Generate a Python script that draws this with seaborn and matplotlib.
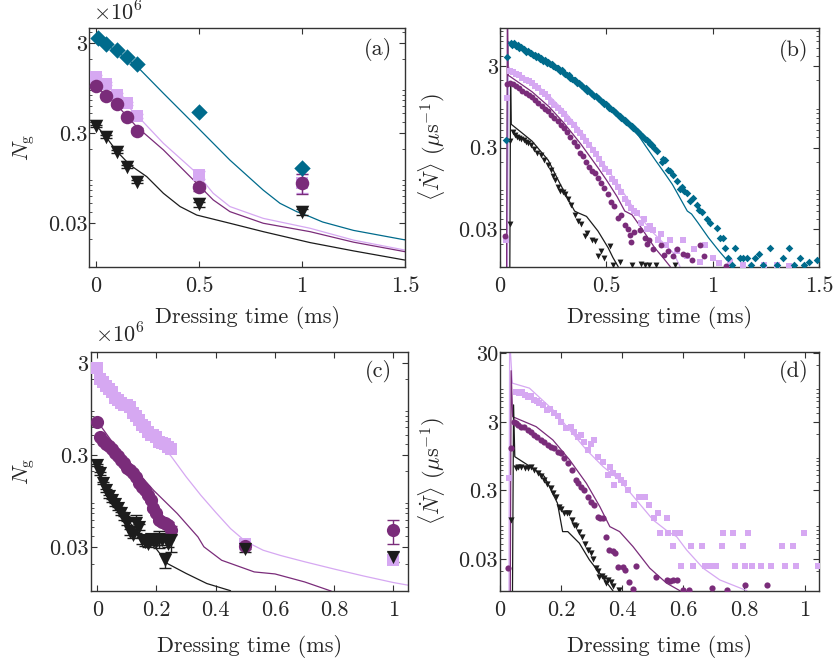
import numpy as np
import matplotlib
matplotlib.use("Agg")
import matplotlib.pyplot as plt
import seaborn as sns
from matplotlib.ticker import LogLocator, NullFormatter

# colours of the four data sets
teal = "#006b8c"
purple = "#7a2c7a"
lilac = "#d6a8f2"
black = "#1c1c1c"

# ---------------- panel (a): atom number vs dressing time (x1e6) ----------------
t_a = [0.0, 0.05, 0.1, 0.15, 0.2, 0.5, 1.0]
teal_a_t = [0.01, 0.05, 0.1, 0.15, 0.2, 0.5, 1.0]
teal_a = [3.41, 2.95, 2.53, 2.13, 1.77, 0.518, 0.124]
lilac_a = [1.28, 1.06, 0.80, 0.645, 0.467, 0.103, 0.085]
lilac_a_err = [0.05, 0.04, 0.03, 0.03, 0.02, 0.01, 0.02]
purple_a = [1.01, 0.78, 0.63, 0.46, 0.32, 0.075, 0.085]
purple_a_err = [0.04, 0.03, 0.03, 0.02, 0.02, 0.006, 0.021]
black_a = [0.361, 0.275, 0.187, 0.128, 0.087, 0.049, 0.040]
black_a_err = [0.01, 0.01, 0.008, 0.006, 0.004, 0.003, 0.003]

teal_a_fit_t = [0.0, 0.1, 0.2, 0.327, 0.489, 0.65, 0.812, 0.893, 0.974, 1.039, 1.1, 1.25, 1.5]
teal_a_fit = [3.4, 2.45, 1.65, 0.834, 0.355, 0.151, 0.07, 0.05, 0.0404, 0.0355, 0.031, 0.025, 0.0196]
lilac_a_fit_t = [0.0, 0.1, 0.197, 0.327, 0.489, 0.569, 0.65, 0.812, 1.039, 1.25, 1.5]
lilac_a_fit = [1.3, 0.8, 0.479, 0.232, 0.108, 0.0646, 0.046, 0.034, 0.0264, 0.0195, 0.0151]
purple_a_fit_t = [0.0, 0.1, 0.197, 0.327, 0.489, 0.569, 0.65, 0.812, 1.039, 1.25, 1.5]
purple_a_fit = [1.0, 0.62, 0.355, 0.196, 0.0834, 0.0545, 0.0404, 0.03, 0.0242, 0.0185, 0.0145]
black_a_fit_t = [0.0, 0.05, 0.1, 0.165, 0.246, 0.327, 0.408, 0.489, 0.65, 0.812, 1.039, 1.25, 1.5]
black_a_fit = [0.37, 0.27, 0.19, 0.133, 0.099, 0.0646, 0.046, 0.037, 0.03, 0.0242, 0.0183, 0.0148, 0.0117]

# ---------------- panel (b): loss rate ----------------
teal_b = [(0.028, 0.37), (0.034, 3.9), (0.050, 5.8), (0.058, 5.4), (0.066, 5.7), (0.074, 5.3),
          (0.082, 5.4), (0.090, 5.0), (0.098, 5.1), (0.106, 4.8), (0.114, 4.9), (0.122, 4.5),
          (0.130, 4.6), (0.138, 4.3), (0.146, 4.35), (0.154, 4.1), (0.162, 4.15), (0.170, 3.9),
          (0.178, 3.95), (0.186, 3.7), (0.194, 3.75), (0.202, 3.5), (0.210, 3.55), (0.218, 3.3),
          (0.226, 3.35), (0.234, 3.15), (0.242, 3.2), (0.250, 3.0), (0.258, 2.95), (0.266, 2.8),
          (0.274, 2.85), (0.282, 2.6), (0.290, 2.65), (0.298, 2.45), (0.306, 2.4), (0.314, 2.3),
          (0.322, 2.3), (0.330, 2.15), (0.338, 2.1), (0.346, 2.0), (0.354, 2.0), (0.362, 1.85),
          (0.370, 1.85), (0.378, 1.75), (0.386, 1.7), (0.394, 1.62), (0.402, 1.6), (0.410, 1.5),
          (0.418, 1.5), (0.426, 1.4), (0.434, 1.38), (0.442, 1.3), (0.450, 1.28), (0.458, 1.2),
          (0.466, 1.18), (0.474, 1.12), (0.482, 1.1), (0.490, 1.03), (0.498, 1.02), (0.506, 0.96),
          (0.514, 0.93), (0.522, 0.9), (0.530, 0.86), (0.538, 0.82), (0.546, 0.8), (0.554, 0.76),
          (0.562, 0.74), (0.570, 0.7), (0.578, 0.67), (0.586, 0.65), (0.594, 0.62), (0.602, 0.6),
          (0.610, 0.57), (0.618, 0.55), (0.626, 0.52), (0.634, 0.51), (0.642, 0.48), (0.650, 0.47),
          (0.658, 0.44), (0.666, 0.42), (0.674, 0.41), (0.682, 0.38), (0.690, 0.37), (0.698, 0.35),
          (0.706, 0.33), (0.714, 0.32), (0.722, 0.30), (0.737, 0.27), (0.760, 0.20), (0.768, 0.22),
          (0.775, 0.21), (0.790, 0.16), (0.800, 0.155), (0.815, 0.14), (0.830, 0.116), (0.846, 0.092),
          (0.855, 0.10), (0.865, 0.087), (0.878, 0.084), (0.893, 0.066), (0.905, 0.072), (0.925, 0.060),
          (0.935, 0.052), (0.948, 0.048), (0.972, 0.0395), (0.985, 0.036), (1.020, 0.031), (1.034, 0.0235),
          (1.048, 0.0235), (1.058, 0.0177), (1.073, 0.0134), (1.090, 0.0108), (1.105, 0.0177), (1.128, 0.0134),
          (1.144, 0.0134), (1.160, 0.0134), (1.180, 0.0108), (1.200, 0.0134), (1.215, 0.0148), (1.235, 0.0108),
          (1.270, 0.0175), (1.300, 0.0108), (1.330, 0.0134), (1.356, 0.0175), (1.380, 0.0108), (1.410, 0.0134),
          (1.430, 0.0108), (1.450, 0.012), (1.490, 0.0125)]
lilac_b = [(0.028, 0.022), (0.034, 1.2), (0.046, 2.6), (0.060, 2.55), (0.075, 2.4), (0.090, 2.3),
           (0.105, 2.15), (0.120, 2.05), (0.135, 1.95), (0.150, 1.85), (0.165, 1.7), (0.180, 1.6),
           (0.195, 1.45), (0.210, 1.35), (0.225, 1.25), (0.240, 1.1), (0.255, 1.0), (0.270, 0.92),
           (0.285, 0.85), (0.300, 0.77), (0.315, 0.68), (0.330, 0.62), (0.345, 0.56), (0.360, 0.5),
           (0.375, 0.45), (0.390, 0.41), (0.405, 0.36), (0.420, 0.32), (0.435, 0.28), (0.450, 0.25),
           (0.465, 0.22), (0.480, 0.19), (0.495, 0.165), (0.510, 0.15), (0.525, 0.125), (0.540, 0.115),
           (0.555, 0.1), (0.570, 0.085), (0.585, 0.07), (0.600, 0.062), (0.615, 0.055), (0.630, 0.05),
           (0.643, 0.047), (0.660, 0.036), (0.675, 0.04), (0.690, 0.03), (0.705, 0.033), (0.720, 0.0295),
           (0.740, 0.022), (0.755, 0.026), (0.780, 0.019), (0.800, 0.022), (0.830, 0.016), (0.860, 0.022),
           (0.880, 0.014), (0.910, 0.017), (0.940, 0.012), (0.964, 0.019), (1.000, 0.0133), (1.030, 0.0115),
           (1.080, 0.012), (1.140, 0.0108), (1.240, 0.011), (1.300, 0.0108), (1.360, 0.0105)]
purple_b = [(0.025, 0.025), (0.034, 1.8), (0.046, 1.86), (0.060, 1.8), (0.075, 1.7), (0.090, 1.6),
            (0.105, 1.5), (0.120, 1.4), (0.135, 1.33), (0.150, 1.25), (0.165, 1.15), (0.180, 1.05),
            (0.195, 0.98), (0.210, 0.9), (0.225, 0.84), (0.240, 0.76), (0.255, 0.7), (0.270, 0.64),
            (0.285, 0.57), (0.300, 0.52), (0.315, 0.46), (0.330, 0.4), (0.345, 0.35), (0.360, 0.31),
            (0.375, 0.26), (0.390, 0.235), (0.405, 0.2), (0.420, 0.175), (0.430, 0.154), (0.445, 0.145),
            (0.460, 0.128), (0.475, 0.11), (0.490, 0.095), (0.508, 0.08), (0.520, 0.065), (0.535, 0.058),
            (0.555, 0.041), (0.570, 0.045), (0.585, 0.034), (0.600, 0.03), (0.611, 0.0255), (0.617, 0.021),
            (0.630, 0.028), (0.658, 0.0295), (0.680, 0.0235), (0.690, 0.02), (0.700, 0.022), (0.720, 0.017),
            (0.757, 0.019), (0.770, 0.0145), (0.790, 0.016), (0.815, 0.0139), (0.830, 0.017), (0.860, 0.015),
            (0.880, 0.0145), (0.900, 0.0125), (0.940, 0.019), (0.960, 0.014), (1.060, 0.0105)]
black_b = [(0.047, 0.035), (0.048, 0.36), (0.060, 0.46), (0.069, 0.43), (0.080, 0.41), (0.090, 0.39),
           (0.100, 0.38), (0.110, 0.37), (0.120, 0.35), (0.130, 0.34), (0.147, 0.327), (0.160, 0.29),
           (0.175, 0.26), (0.190, 0.24), (0.205, 0.21), (0.226, 0.186), (0.240, 0.16), (0.250, 0.135),
           (0.260, 0.12), (0.270, 0.1), (0.280, 0.088), (0.295, 0.085), (0.304, 0.08), (0.320, 0.07),
           (0.335, 0.06), (0.350, 0.045), (0.367, 0.0377), (0.380, 0.035), (0.398, 0.0247), (0.410, 0.027),
           (0.430, 0.022), (0.445, 0.0214), (0.460, 0.014), (0.475, 0.016), (0.490, 0.0134), (0.517, 0.0184),
           (0.530, 0.011), (0.563, 0.0117), (0.620, 0.0108), (0.664, 0.0113), (0.680, 0.011), (0.700, 0.011),
           (0.735, 0.0108), (0.820, 0.0108)]

teal_b_fit_t = [0.032, 0.036, 0.05, 0.15, 0.23, 0.3, 0.46, 0.62, 0.73, 0.77, 0.81, 0.88, 0.90, 0.93, 0.98, 1.03, 1.07, 1.09]
teal_b_fit = [0.005, 6.0, 5.7, 4.1, 3.3, 2.5, 1.2, 0.55, 0.21, 0.15, 0.106, 0.050, 0.046, 0.036, 0.0235, 0.0161, 0.0122, 0.0100]
lilac_b_fit_t = [0.034, 0.038, 0.045, 0.15, 0.23, 0.3, 0.38, 0.46, 0.54, 0.6, 0.643, 0.66, 0.72, 0.815, 0.846]
lilac_b_fit = [0.005, 3.0, 2.8, 1.95, 1.3, 0.85, 0.48, 0.24, 0.12, 0.07, 0.046, 0.042, 0.027, 0.0153, 0.0104]
purple_b_fit_t = [0.030, 0.034, 0.038, 0.046, 0.15, 0.23, 0.3, 0.38, 0.46, 0.5, 0.55, 0.586, 0.62, 0.664, 0.727, 0.766, 0.8]
purple_b_fit = [0.005, 20, 2.3, 2.24, 1.45, 0.95, 0.6, 0.33, 0.17, 0.12, 0.075, 0.05, 0.045, 0.031, 0.0177, 0.0134, 0.0104]
black_b_fit_t = [0.045, 0.049, 0.052, 0.1, 0.15, 0.226, 0.28, 0.32, 0.35, 0.367, 0.406, 0.46, 0.508, 0.53, 0.555]
black_b_fit = [0.005, 1.9, 0.58, 0.46, 0.36, 0.21, 0.11, 0.07, 0.05, 0.0475, 0.043, 0.0284, 0.0177, 0.0135, 0.0104]

# ---------------- panel (c): atom number, finer time steps (x1e6) ----------------
t_c = [0.00, 0.01, 0.02, 0.03, 0.04, 0.05, 0.06, 0.07, 0.08, 0.09, 0.10, 0.11, 0.12, 0.13,
       0.14, 0.15, 0.16, 0.17, 0.18, 0.19, 0.20, 0.21, 0.22, 0.23, 0.24, 0.25, 0.5, 1.0]
lilac_c = [2.6, 2.0, 1.85, 1.68, 1.55, 1.45, 1.25, 1.18, 1.09, 1.05, 1.04, 0.99, 0.86, 0.8,
           0.72, 0.64, 0.6, 0.54, 0.5, 0.5, 0.47, 0.42, 0.41, 0.40, 0.37, 0.345, 0.033, 0.022]
purple_c = [0.69, 0.47, 0.43, 0.40, 0.38, 0.35, 0.315, 0.29, 0.265, 0.245, 0.22, 0.206, 0.19, 0.175,
            0.15, 0.137, 0.125, 0.11, 0.097, 0.08, 0.07, 0.059, 0.057, 0.055, 0.052, 0.046, 0.031, 0.046]
purple_c_err = [0.02, 0.01, 0.01, 0.01, 0.01, 0.01, 0.01, 0.008, 0.008, 0.007, 0.006, 0.006, 0.005, 0.005,
                0.005, 0.004, 0.004, 0.004, 0.003, 0.003, 0.003, 0.003, 0.003, 0.003, 0.004, 0.005, 0.002, 0.013]
black_c = [0.234, 0.19, 0.15, 0.125, 0.108, 0.097, 0.088, 0.08, 0.07, 0.062, 0.055, 0.044, 0.041, 0.055,
           0.05, 0.036, 0.034, 0.033, 0.0375, 0.036, 0.0345, 0.0375, 0.036, 0.022, 0.033, 0.036, 0.029, 0.0237]
black_c_err = [0.008, 0.006, 0.005, 0.004, 0.004, 0.003, 0.003, 0.003, 0.003, 0.003, 0.003, 0.003, 0.003, 0.012,
               0.004, 0.003, 0.003, 0.003, 0.003, 0.004, 0.003, 0.008, 0.004, 0.004, 0.003, 0.009, 0.002, 0.003]

lilac_c_fit_t = [0.0, 0.05, 0.1, 0.15, 0.2, 0.25, 0.3, 0.35, 0.4, 0.45, 0.5, 0.56, 0.62, 0.7, 0.8, 0.9, 1.0, 1.05]
lilac_c_fit = [2.6, 1.7, 1.1, 0.72, 0.45, 0.29, 0.175, 0.11, 0.072, 0.048, 0.035, 0.028, 0.0245, 0.021, 0.0175, 0.0147, 0.0125, 0.0117]
purple_c_fit_t = [0.0, 0.05, 0.1, 0.14, 0.19, 0.27, 0.34, 0.36, 0.42, 0.53, 0.6, 0.7, 0.79]
purple_c_fit = [0.7, 0.42, 0.27, 0.19, 0.125, 0.07, 0.039, 0.0305, 0.0218, 0.0163, 0.0155, 0.0127, 0.0101]
black_c_fit_t = [0.0, 0.013, 0.059, 0.092, 0.137, 0.194, 0.238, 0.3, 0.37, 0.45]
black_c_fit = [0.24, 0.16, 0.09, 0.065, 0.044, 0.0305, 0.020, 0.0157, 0.0122, 0.0102]

# ---------------- panel (d): loss rate ----------------
lilac_d = [(0.028, 0.45), (0.051, 8.3), (0.062, 7.8), (0.073, 8.3), (0.082, 7.5), (0.090, 7.0),
           (0.100, 7.2), (0.112, 6.25), (0.120, 6.0), (0.128, 5.6), (0.140, 5.2), (0.155, 4.47),
           (0.165, 4.6), (0.178, 4.0), (0.190, 3.6), (0.200, 3.0), (0.216, 2.4), (0.232, 2.55),
           (0.243, 2.1), (0.254, 1.82), (0.265, 1.9), (0.276, 1.54), (0.287, 1.17), (0.298, 1.4),
           (0.309, 1.63), (0.320, 0.93), (0.336, 0.79), (0.353, 0.5), (0.360, 0.65), (0.369, 0.53),
           (0.375, 0.36), (0.386, 0.48), (0.397, 0.42), (0.408, 0.38), (0.420, 0.3), (0.440, 0.184),
           (0.457, 0.243), (0.474, 0.243), (0.490, 0.184), (0.506, 0.117), (0.518, 0.139), (0.524, 0.071),
           (0.546, 0.117), (0.551, 0.071), (0.568, 0.047), (0.573, 0.071), (0.589, 0.071), (0.595, 0.0237),
           (0.628, 0.047), (0.633, 0.0237), (0.661, 0.047), (0.671, 0.0237), (0.693, 0.0237), (0.710, 0.0237),
           (0.727, 0.047), (0.732, 0.071), (0.765, 0.071), (0.770, 0.0237), (0.796, 0.047), (0.803, 0.0237),
           (0.815, 0.071), (0.825, 0.0237), (0.857, 0.0237), (0.890, 0.0237), (0.924, 0.047), (0.934, 0.0237),
           (0.962, 0.047), (0.972, 0.0237), (0.996, 0.071), (1.043, 0.0237)]
purple_d = [(0.025, 0.022), (0.034, 1.24), (0.047, 3.0), (0.051, 2.86), (0.060, 2.7), (0.068, 2.55),
            (0.078, 2.5), (0.090, 2.28), (0.100, 2.1), (0.112, 1.93), (0.122, 1.8), (0.134, 1.63),
            (0.145, 1.5), (0.156, 1.38), (0.167, 1.3), (0.178, 1.24), (0.190, 1.1), (0.200, 1.04),
            (0.211, 0.9), (0.222, 0.75), (0.236, 0.6), (0.249, 0.425), (0.257, 0.38), (0.265, 0.34),
            (0.276, 0.3), (0.287, 0.243), (0.298, 0.2), (0.309, 0.184), (0.320, 0.124), (0.328, 0.12),
            (0.336, 0.12), (0.347, 0.0635), (0.358, 0.0405), (0.369, 0.039), (0.376, 0.036), (0.386, 0.023),
            (0.402, 0.023), (0.410, 0.021), (0.424, 0.014), (0.435, 0.0108), (0.447, 0.0235), (0.513, 0.0166),
            (0.546, 0.0148), (0.556, 0.0145), (0.566, 0.0148), (0.580, 0.0148), (0.600, 0.0107), (0.620, 0.0107),
            (0.694, 0.0114), (0.745, 0.0107), (0.804, 0.0123), (0.875, 0.0123)]
black_d = [(0.037, 0.111), (0.051, 0.63), (0.060, 0.66), (0.070, 0.665), (0.080, 0.64), (0.090, 0.63),
           (0.100, 0.66), (0.110, 0.6), (0.123, 0.53), (0.133, 0.48), (0.145, 0.425), (0.155, 0.37),
           (0.166, 0.32), (0.175, 0.27), (0.183, 0.243), (0.194, 0.174), (0.200, 0.16), (0.210, 0.139),
           (0.220, 0.14), (0.227, 0.139), (0.235, 0.11), (0.243, 0.093), (0.250, 0.09), (0.260, 0.075),
           (0.270, 0.0635), (0.280, 0.05), (0.287, 0.0405), (0.298, 0.037), (0.305, 0.03), (0.314, 0.022),
           (0.320, 0.02), (0.326, 0.0166), (0.334, 0.017), (0.342, 0.016), (0.347, 0.0133), (0.355, 0.015),
           (0.364, 0.014), (0.370, 0.012), (0.390, 0.0105)]

lilac_d_fit_t = [0.029, 0.031, 0.034, 0.04, 0.096, 0.173, 0.228, 0.283, 0.338, 0.392, 0.447, 0.502, 0.551, 0.579, 0.612, 0.666, 0.721, 0.81]
lilac_d_fit = [0.005, 40, 30, 11, 9.3, 4.5, 2.28, 1.17, 0.665, 0.425, 0.217, 0.111, 0.075, 0.0635, 0.0405, 0.022, 0.0148, 0.0103]
purple_d_fit_t = [0.033, 0.036, 0.041, 0.118, 0.173, 0.228, 0.283, 0.327, 0.36, 0.392, 0.436, 0.491, 0.546, 0.59]
purple_d_fit = [0.005, 16.7, 3.56, 2.55, 1.63, 0.835, 0.38, 0.174, 0.0887, 0.075, 0.0454, 0.022, 0.0133, 0.0103]
black_d_fit_t = [0.040, 0.044, 0.048, 0.09, 0.145, 0.188, 0.205, 0.222, 0.26, 0.293, 0.331, 0.37]
black_d_fit = [0.005, 5.3, 0.93, 0.705, 0.48, 0.195, 0.075, 0.075, 0.0508, 0.029, 0.0175, 0.0103]

# ---------------- style ----------------
sns.set_theme(style="ticks")
plt.rcParams["font.family"] = ["cmr10", "DejaVu Serif"]
plt.rcParams["mathtext.fontset"] = "cm"
plt.rcParams["axes.formatter.use_mathtext"] = True
plt.rcParams["axes.unicode_minus"] = False
FS = 16
rate_label = r"$\langle \dot{N} \rangle$ ($\mu$s$^{-1}$)"

fig = plt.figure(figsize=(8.35, 6.65), dpi=100)
ax_a = fig.add_axes([0.107, 0.5985, 0.378, 0.3595])
ax_b = fig.add_axes([0.599, 0.599, 0.382, 0.359])
ax_c = fig.add_axes([0.1086, 0.1117, 0.3804, 0.3594])
ax_d = fig.add_axes([0.599, 0.1117, 0.382, 0.3594])


def fit(ax, t, y, color):
    sns.lineplot(x=t, y=y, ax=ax, color=color, linewidth=0.9, sort=False, estimator=None, zorder=2)


def points(ax, t, y, color, marker, size, yerr=None):
    if yerr is not None:
        ax.errorbar(t, y, yerr=yerr, fmt="none", ecolor=color, elinewidth=1.0,
                    capsize=4, capthick=1.0, zorder=2.5)
    sns.scatterplot(x=t, y=y, ax=ax, color=color, marker=marker, s=size,
                    linewidth=0, zorder=3)


def style(ax, xlim, ylim, xticks, xlabels, yticks, ylabels, tag, tagpos, ylab, ylabx, xlaby):
    ax.set_yscale("log")
    ax.set_xlim(*xlim)
    ax.set_ylim(*ylim)
    ax.set_xticks(xticks, xlabels)
    ax.set_yticks(yticks, ylabels)
    ax.yaxis.set_minor_locator(LogLocator(base=10, subs=np.arange(2, 10), numticks=20))
    ax.yaxis.set_minor_formatter(NullFormatter())
    ax.tick_params(which="both", direction="in", top=True, right=True, labelsize=FS,
                   color="#333333")
    ax.tick_params(which="major", length=4, width=0.8)
    ax.tick_params(which="minor", length=2.2, width=0.6)
    ax.tick_params(axis="y", pad=1.5)
    ax.tick_params(axis="x", pad=7)
    for sp in ax.spines.values():
        sp.set_color("#333333")
        sp.set_linewidth(1.0)
    ax.set_xlabel("Dressing time (ms)", fontsize=FS)
    ax.set_ylabel(ylab, fontsize=FS)
    ax.yaxis.set_label_coords(ylabx, 0.5)
    ax.xaxis.set_label_coords(0.5, xlaby)
    ax.text(tagpos[0], tagpos[1], tag, transform=ax.transAxes, ha="center", va="center",
            fontsize=FS)


# panel (a)
fit(ax_a, teal_a_fit_t, teal_a_fit, teal)
fit(ax_a, lilac_a_fit_t, lilac_a_fit, lilac)
fit(ax_a, purple_a_fit_t, purple_a_fit, purple)
fit(ax_a, black_a_fit_t, black_a_fit, black)
points(ax_a, t_a, lilac_a, lilac, "s", 75, lilac_a_err)
points(ax_a, t_a, purple_a, purple, "o", 95, purple_a_err)
points(ax_a, t_a, black_a, black, "v", 95, black_a_err)
points(ax_a, teal_a_t, teal_a, teal, "D", 70)
style(ax_a, (-0.0325, 1.5), (0.0098, 4.44), [0, 0.5, 1, 1.5], ["0", "0.5", "1", "1.5"],
      [0.03, 0.3, 3], ["0.03", "0.3", "3"], "(a)", (0.915, 0.908), r"$N_{\rm g}$", -0.166, -0.163)
ax_a.text(0.011, 1.065, r"$\times 10^6$", transform=ax_a.transAxes, ha="left", va="center", fontsize=FS)

# panel (b)
for data, col, mk, sz in [(lilac_b, lilac, "s", 13), (purple_b, purple, "o", 18),
                          (black_b, black, "v", 18), (teal_b, teal, "D", 15)]:
    bx, by = zip(*data)
    points(ax_b, list(bx), list(by), col, mk, sz)
fit(ax_b, teal_b_fit_t, teal_b_fit, teal)
fit(ax_b, lilac_b_fit_t, lilac_b_fit, lilac)
fit(ax_b, purple_b_fit_t, purple_b_fit, purple)
fit(ax_b, black_b_fit_t, black_b_fit, black)
style(ax_b, (0, 1.5), (0.0104, 8.8), [0, 0.5, 1, 1.5], ["0", "0.5", "1", "1.5"],
      [0.03, 0.3, 3], ["0.03", "0.3", "3"], "(b)", (0.919, 0.907), rate_label, -0.163, -0.166)

# panel (c)
fit(ax_c, lilac_c_fit_t, lilac_c_fit, lilac)
fit(ax_c, purple_c_fit_t, purple_c_fit, purple)
fit(ax_c, black_c_fit_t, black_c_fit, black)
points(ax_c, t_c, lilac_c, lilac, "s", 80)
points(ax_c, t_c, purple_c, purple, "o", 90, purple_c_err)
points(ax_c, t_c, black_c, black, "v", 90, black_c_err)
style(ax_c, (-0.022, 1.05), (0.0102, 3.95), [0, 0.2, 0.4, 0.6, 0.8, 1],
      ["0", "0.2", "0.4", "0.6", "0.8", "1"], [0.03, 0.3, 3], ["0.03", "0.3", "3"],
      "(c)", (0.906, 0.916), r"$N_{\rm g}$", -0.169, -0.185)
ax_c.text(0.0135, 1.074, r"$\times 10^6$", transform=ax_c.transAxes, ha="left", va="center", fontsize=FS)

# panel (d)
for data, col, mk, sz in [(lilac_d, lilac, "s", 13), (purple_d, purple, "o", 20),
                          (black_d, black, "v", 20)]:
    dx, dy = zip(*data)
    points(ax_d, list(dx), list(dy), col, mk, sz)
fit(ax_d, lilac_d_fit_t, lilac_d_fit, lilac)
fit(ax_d, purple_d_fit_t, purple_d_fit, purple)
fit(ax_d, black_d_fit_t, black_d_fit, black)
style(ax_d, (0, 1.047), (0.0103, 31.6), [0, 0.2, 0.4, 0.6, 0.8, 1],
      ["0", "0.2", "0.4", "0.6", "0.8", "1"], [0.03, 0.3, 3, 30], ["0.03", "0.3", "3", "30"],
      "(d)", (0.919, 0.916), rate_label, -0.165, -0.185)

fig.savefig("out.png", dpi=100)
